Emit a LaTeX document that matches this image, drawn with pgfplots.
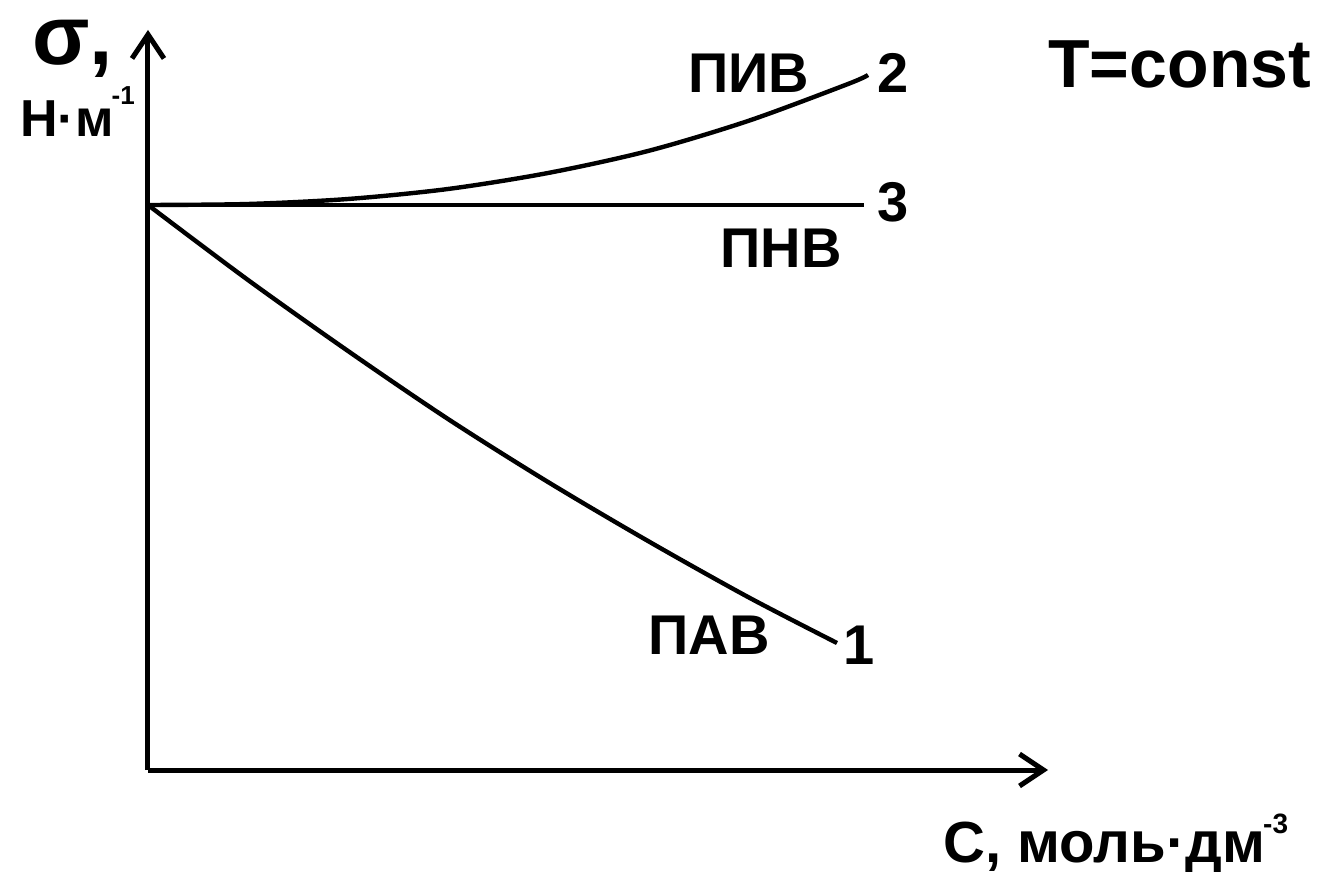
\documentclass[border=0pt]{standalone}
\usepackage{fontspec}
\setmainfont{Liberation Sans}
\usepackage{pgfplots}
\pgfplotsset{compat=1.18}
\usetikzlibrary{arrows.meta}

\begin{document}
\begin{tikzpicture}[
    lbl/.style={inner sep=0pt, anchor=base west, font=\bfseries\fontsize{28}{28}\selectfont},
]
\begin{axis}[
    x=0.5pt, y=0.5pt,
    xmin=0, xmax=900,
    ymin=0, ymax=740,
    axis lines=left,
    axis line style={line width=2.5pt, -{Straight Barb[length=12pt,width=16pt]}},
    xtick=\empty, ytick=\empty,
    clip=false,
]
% 1: surface-active
\addplot[black, line width=2.2pt, smooth] coordinates {
    (0,565) (100,490) (200,419) (300,351) (400,288) (500,229) (600,173) (689,127)};
% 2: surface-inactive
\addplot[black, line width=2.2pt, smooth] coordinates {
    (0,565) (100,566) (200,571) (300,581) (400,597) (500,619) (600,649) (700,686) (720,695)};
% 3: indifferent
\addplot[black, line width=2.2pt] coordinates {(0,565) (716,565)};

\node[lbl, font=\bfseries\fontsize{42}{42}\selectfont] at (axis cs:-116,705) {σ,};
\node[lbl, font=\bfseries\fontsize{26}{26}\selectfont] at (axis cs:-128,633)
    {Н·м\kern-1pt\raisebox{16pt}{\fontsize{13}{13}\selectfont -1}};
\node[lbl] at (axis cs:540,677) {ПИВ};
\node[lbl] at (axis cs:729,677) {2};
\node[lbl] at (axis cs:729,548) {3};
\node[lbl] at (axis cs:572,502) {ПНВ};
\node[lbl] at (axis cs:500,115) {ПАВ};
\node[lbl] at (axis cs:695,105) {1};
\node[lbl, font=\bfseries\fontsize{34}{34}\selectfont] at (axis cs:900,682) {T=const};
\node[lbl, font=\bfseries\fontsize{29}{29}\selectfont] at (axis cs:795,-92)
    {С, моль·дм\kern-1pt\raisebox{14.5pt}{\fontsize{14}{14}\selectfont -3}};
\end{axis}
\pgfresetboundingbox
\path[use as bounding box] (-74pt,-51pt) rectangle (584.5pt,385pt);
\end{tikzpicture}
\end{document}
